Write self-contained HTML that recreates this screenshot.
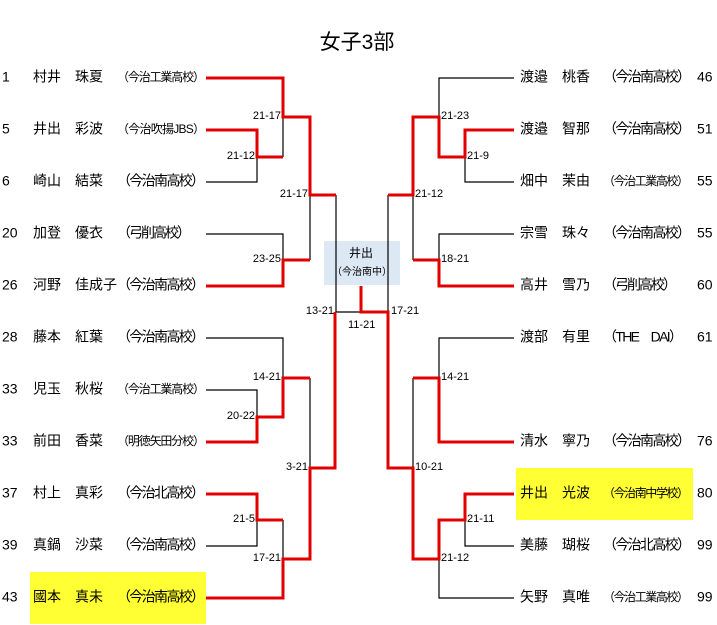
<!DOCTYPE html>
<html><head><meta charset="utf-8"><style>
html,body{margin:0;padding:0;background:#fff;}
svg{display:block;font-family:"Liberation Sans","Noto Sans CJK JP",sans-serif;}
.n{font-size:14px;fill:#000;}
.s{font-size:11px;fill:#000;font-family:"Liberation Sans","Noto Sans CJK JP",sans-serif;}
.r{stroke:#e00000;stroke-width:3;fill:none;}
.b{stroke:#000;stroke-width:1.2;fill:none;}
</style></head><body>
<svg width="717" height="625" viewBox="0 0 717 625" xmlns="http://www.w3.org/2000/svg">
<rect x="30" y="572" width="176" height="52" fill="#ffff33"/>
<rect x="516" y="468" width="177" height="52" fill="#ffff33"/>
<rect x="324" y="241" width="76" height="44" fill="#dde8f5"/>
<text x="357" y="49" font-size="21" text-anchor="middle">女子3部</text>
<text x="361" y="257" font-size="12" text-anchor="middle">井出</text>
<text x="362" y="275" font-size="10" text-anchor="middle">（今治南中）</text>

<g class="n" dominant-baseline="middle">
<text x="2" y="78">1</text><text x="33" y="78">村井　珠夏</text><text x="117" y="78" font-size="12" textLength="88">（今治工業高校）</text>
<text x="2" y="130">5</text><text x="33" y="130">井出　彩波</text><text x="117" y="130" font-size="12" textLength="88">（今治吹揚JBS）</text>
<text x="2" y="182">6</text><text x="33" y="182">崎山　結菜</text><text x="117" y="182" textLength="88">（今治南高校）</text>
<text x="2" y="234">20</text><text x="33" y="234">加登　優衣</text><text x="117" y="234" textLength="74">（弓削高校）</text>
<text x="2" y="286">26</text><text x="33" y="286">河野　佳成子</text><text x="117" y="286" textLength="88">（今治南高校）</text>
<text x="2" y="338">28</text><text x="33" y="338">藤本　紅葉</text><text x="117" y="338" textLength="88">（今治南高校）</text>
<text x="2" y="390">33</text><text x="33" y="390">児玉　秋桜</text><text x="117" y="390" font-size="12" textLength="88">（今治工業高校）</text>
<text x="2" y="442">33</text><text x="33" y="442">前田　香菜</text><text x="117" y="442" font-size="12" textLength="88">（明徳矢田分校）</text>
<text x="2" y="494">37</text><text x="33" y="494">村上　真彩</text><text x="117" y="494" textLength="88">（今治北高校）</text>
<text x="2" y="546">39</text><text x="33" y="546">真鍋　沙菜</text><text x="117" y="546" textLength="88">（今治南高校）</text>
<text x="2" y="598">43</text><text x="33" y="598">國本　真未</text><text x="117" y="598" textLength="88">（今治南高校）</text>

<text x="520" y="78">渡邉　桃香</text><text x="603" y="78" textLength="88">（今治南高校）</text><text x="697" y="78">46</text>
<text x="520" y="130">渡邉　智那</text><text x="603" y="130" textLength="88">（今治南高校）</text><text x="697" y="130">51</text>
<text x="520" y="182">畑中　茉由</text><text x="603" y="182" font-size="12" textLength="86">（今治工業高校）</text><text x="697" y="182">55</text>
<text x="520" y="234">宗雪　珠々</text><text x="603" y="234" textLength="88">（今治南高校）</text><text x="697" y="234">55</text>
<text x="520" y="286">高井　雪乃</text><text x="603" y="286" textLength="74">（弓削高校）</text><text x="697" y="286">60</text>
<text x="520" y="338">渡部　有里</text><text x="603" y="338" textLength="80">（THE　DAI）</text><text x="697" y="338">61</text>
<text x="520" y="442">清水　寧乃</text><text x="603" y="442" textLength="88">（今治南高校）</text><text x="697" y="442">76</text>
<text x="520" y="494">井出　光波</text><text x="603" y="494" font-size="12" textLength="86">（今治南中学校）</text><text x="697" y="494">80</text>
<text x="520" y="546">美藤　瑚桜</text><text x="603" y="546" textLength="88">（今治北高校）</text><text x="697" y="546">99</text>
<text x="520" y="598">矢野　真唯</text><text x="603" y="598" font-size="12" textLength="86">（今治工業高校）</text><text x="697" y="598">99</text>
</g>

<g class="b">
<path d="M206 182H257V157"/>
<path d="M283 117V157"/>
<path d="M310 195V260"/>
<path d="M206 234H283V260"/>
<path d="M336 195V312H361"/>
<path d="M206 338H283V378"/>
<path d="M206 390H257V417"/>
<path d="M310 378V468"/>
<path d="M206 546H257V520"/>
<path d="M283 520V559"/>
<path d="M388 195V312"/>
<path d="M514 78H439V117"/>
<path d="M465 157V182H514"/>
<path d="M413 195V260"/>
<path d="M514 234H439V260"/>
<path d="M514 338H439V378"/>
<path d="M413 378V468"/>
<path d="M465 520V546H514"/>
<path d="M439 559V598H514"/>
</g>

<g class="r">
<path d="M206 78H283V117H310V195H336"/>
<path d="M206 130H257V157H283"/>
<path d="M206 286H283V260H310"/>
<path d="M206 442H257V417H283V378H310"/>
<path d="M206 494H257V520H283"/>
<path d="M206 598H283V559H310V468H335V312"/>
<path d="M361 286V312H388V468H413V559H439V520H465V494H514"/>
<path d="M388 195H413V117H439V157H465V130H514"/>
<path d="M413 260H439V286H514"/>
<path d="M413 378H439V442H514"/>
</g>

<g class="s" dominant-baseline="middle">
<g text-anchor="end">
<text x="281" y="116">21-17</text>
<text x="255" y="156">21-12</text>
<text x="308" y="194">21-17</text>
<text x="281" y="259">23-25</text>
<text x="334" y="311">13-21</text>
<text x="281" y="377">14-21</text>
<text x="255" y="416">20-22</text>
<text x="308" y="467">3-21</text>
<text x="255" y="519">21-5</text>
<text x="281" y="558">17-21</text>
</g>
<text x="348" y="325">11-21</text>
<text x="391" y="311">17-21</text>
<text x="441" y="116">21-23</text>
<text x="467" y="156">21-9</text>
<text x="415" y="194">21-12</text>
<text x="441" y="259">18-21</text>
<text x="441" y="377">14-21</text>
<text x="415" y="467">10-21</text>
<text x="467" y="519">21-11</text>
<text x="441" y="558">21-12</text>
</g>
</svg>
</body></html>
